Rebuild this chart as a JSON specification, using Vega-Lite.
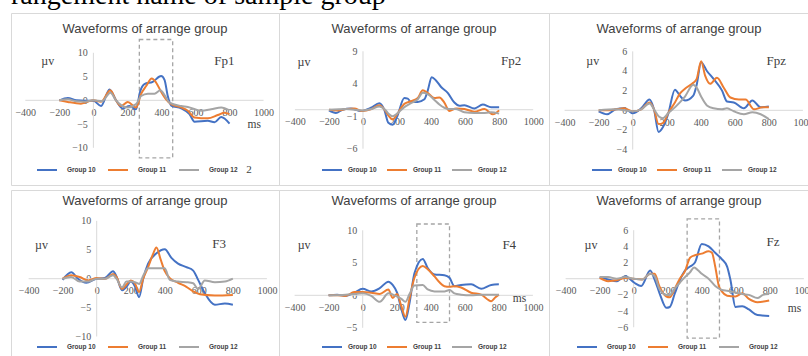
{
"$schema": "https://vega.github.io/schema/vega-lite/v6.json",
"padding": {"left": 10, "top": 0, "right": -4, "bottom": -1},
"config": {
  "view": {"stroke": "#d9d9d9", "strokeWidth": 1},
  "concat": {"spacing": 0},
  "title": {"font": "Liberation Sans", "fontSize": 13, "fontWeight": "normal", "color": "#404040", "anchor": "middle", "frame": "group"},
  "axis": {"domain": false, "ticks": false, "tickSize": 0, "grid": false, "labelFont": "Liberation Serif", "labelFontSize": 10, "labelColor": "#595959", "labelFlush": false, "labelOverlap": false, "labelBound": false},
  "axisX": {"labelPadding": 12, "labelBaseline": "middle", "labelAlign": "center"},
  "axisY": {"labelPadding": 6, "labelAlign": "right", "labelBaseline": "middle"},
  "legend": {"orient": "none", "direction": "horizontal", "symbolType": "stroke", "symbolSize": 400, "symbolStrokeWidth": 2, "labelFont": "Liberation Sans", "labelFontSize": 6.5, "labelFontWeight": "bold", "labelColor": "#404040"},
  "line": {"interpolate": "monotone", "strokeWidth": 2},
  "rule": {"color": "#d9d9d9", "strokeWidth": 1},
  "text": {"font": "Liberation Serif", "color": "#404040", "baseline": "middle", "align": "center"}
},
"datasets": {
"fp1": [
{"g":"Group 10","t":-200,"v":0},{"g":"Group 10","t":-150,"v":0.5},{"g":"Group 10","t":-100,"v":0},{"g":"Group 10","t":-50,"v":-0.1},{"g":"Group 10","t":0,"v":-0.1},{"g":"Group 10","t":45,"v":-1.2},{"g":"Group 10","t":95,"v":2.3},{"g":"Group 10","t":133,"v":0},{"g":"Group 10","t":172,"v":-1.7},{"g":"Group 10","t":212,"v":-1.2},{"g":"Group 10","t":250,"v":-1.9},{"g":"Group 10","t":276,"v":2.0},{"g":"Group 10","t":300,"v":3.4},{"g":"Group 10","t":349,"v":3.9},{"g":"Group 10","t":398,"v":5.1},{"g":"Group 10","t":418,"v":4.3},{"g":"Group 10","t":437,"v":0.9},{"g":"Group 10","t":457,"v":-1.1},{"g":"Group 10","t":516,"v":-1.7},{"g":"Group 10","t":565,"v":-2.9},{"g":"Group 10","t":594,"v":-4.5},{"g":"Group 10","t":672,"v":-4.3},{"g":"Group 10","t":712,"v":-4.6},{"g":"Group 10","t":751,"v":-3.5},{"g":"Group 10","t":800,"v":-4.9},
{"g":"Group 11","t":-200,"v":0},{"g":"Group 11","t":-150,"v":-0.35},{"g":"Group 11","t":-73,"v":-0.7},{"g":"Group 11","t":-33,"v":-0.3},{"g":"Group 11","t":0,"v":0},{"g":"Group 11","t":45,"v":-0.3},{"g":"Group 11","t":100,"v":2.1},{"g":"Group 11","t":133,"v":0},{"g":"Group 11","t":163,"v":-1.2},{"g":"Group 11","t":202,"v":-0.35},{"g":"Group 11","t":251,"v":-1.5},{"g":"Group 11","t":280,"v":1.3},{"g":"Group 11","t":310,"v":3.0},{"g":"Group 11","t":343,"v":4.6},{"g":"Group 11","t":369,"v":3.7},{"g":"Group 11","t":398,"v":1.8},{"g":"Group 11","t":427,"v":0.2},{"g":"Group 11","t":457,"v":-0.8},{"g":"Group 11","t":516,"v":-1.5},{"g":"Group 11","t":555,"v":-2.2},{"g":"Group 11","t":594,"v":-3.6},{"g":"Group 11","t":672,"v":-3.8},{"g":"Group 11","t":731,"v":-3.1},{"g":"Group 11","t":771,"v":-2.6},{"g":"Group 11","t":800,"v":-2.9},
{"g":"Group 12","t":-200,"v":0},{"g":"Group 12","t":-150,"v":0.2},{"g":"Group 12","t":-100,"v":-0.2},{"g":"Group 12","t":-50,"v":-0.3},{"g":"Group 12","t":0,"v":0},{"g":"Group 12","t":50,"v":-0.2},{"g":"Group 12","t":100,"v":1.6},{"g":"Group 12","t":133,"v":0},{"g":"Group 12","t":163,"v":-1.0},{"g":"Group 12","t":202,"v":-1.5},{"g":"Group 12","t":251,"v":-0.8},{"g":"Group 12","t":280,"v":0.9},{"g":"Group 12","t":320,"v":1.4},{"g":"Group 12","t":359,"v":1.4},{"g":"Group 12","t":394,"v":2.1},{"g":"Group 12","t":418,"v":1.1},{"g":"Group 12","t":447,"v":-0.5},{"g":"Group 12","t":516,"v":-1.2},{"g":"Group 12","t":555,"v":-1.4},{"g":"Group 12","t":633,"v":-2.2},{"g":"Group 12","t":692,"v":-1.9},{"g":"Group 12","t":751,"v":-1.5},{"g":"Group 12","t":800,"v":-2.1}
],
"fp2": [
{"g":"Group 10","t":-200,"v":-0.1},{"g":"Group 10","t":-159,"v":-0.5},{"g":"Group 10","t":-120,"v":0},{"g":"Group 10","t":-71,"v":0.2},{"g":"Group 10","t":-12,"v":-0.2},{"g":"Group 10","t":47,"v":0.3},{"g":"Group 10","t":96,"v":1.0},{"g":"Group 10","t":125,"v":0},{"g":"Group 10","t":149,"v":-2.0},{"g":"Group 10","t":175,"v":-2.3},{"g":"Group 10","t":200,"v":-1.1},{"g":"Group 10","t":243,"v":1.8},{"g":"Group 10","t":263,"v":1.7},{"g":"Group 10","t":282,"v":1.2},{"g":"Group 10","t":322,"v":1.2},{"g":"Group 10","t":361,"v":1.6},{"g":"Group 10","t":380,"v":2.9},{"g":"Group 10","t":404,"v":5.0},{"g":"Group 10","t":429,"v":4.5},{"g":"Group 10","t":459,"v":3.5},{"g":"Group 10","t":498,"v":2.6},{"g":"Group 10","t":537,"v":1.1},{"g":"Group 10","t":567,"v":0.6},{"g":"Group 10","t":596,"v":0.7},{"g":"Group 10","t":655,"v":0.2},{"g":"Group 10","t":704,"v":0.8},{"g":"Group 10","t":753,"v":0.4},{"g":"Group 10","t":800,"v":0.4},
{"g":"Group 11","t":-200,"v":0},{"g":"Group 11","t":-150,"v":-0.1},{"g":"Group 11","t":-100,"v":0.1},{"g":"Group 11","t":-50,"v":0.2},{"g":"Group 11","t":-10,"v":-0.2},{"g":"Group 11","t":50,"v":0.1},{"g":"Group 11","t":96,"v":0.7},{"g":"Group 11","t":130,"v":-0.1},{"g":"Group 11","t":150,"v":-0.9},{"g":"Group 11","t":175,"v":-1.5},{"g":"Group 11","t":200,"v":-0.7},{"g":"Group 11","t":243,"v":0.9},{"g":"Group 11","t":282,"v":1.3},{"g":"Group 11","t":322,"v":1.8},{"g":"Group 11","t":351,"v":3.0},{"g":"Group 11","t":380,"v":2.6},{"g":"Group 11","t":420,"v":1.8},{"g":"Group 11","t":449,"v":1.9},{"g":"Group 11","t":478,"v":1.1},{"g":"Group 11","t":508,"v":-0.2},{"g":"Group 11","t":547,"v":0.2},{"g":"Group 11","t":596,"v":0.1},{"g":"Group 11","t":655,"v":-0.3},{"g":"Group 11","t":714,"v":0.1},{"g":"Group 11","t":763,"v":-0.7},{"g":"Group 11","t":800,"v":-0.1},
{"g":"Group 12","t":-200,"v":0},{"g":"Group 12","t":-100,"v":0.1},{"g":"Group 12","t":0,"v":-0.1},{"g":"Group 12","t":50,"v":0.1},{"g":"Group 12","t":96,"v":0.5},{"g":"Group 12","t":130,"v":0},{"g":"Group 12","t":150,"v":-0.6},{"g":"Group 12","t":175,"v":-1.0},{"g":"Group 12","t":200,"v":-0.6},{"g":"Group 12","t":243,"v":0.4},{"g":"Group 12","t":282,"v":1.0},{"g":"Group 12","t":322,"v":1.6},{"g":"Group 12","t":351,"v":2.6},{"g":"Group 12","t":380,"v":2.4},{"g":"Group 12","t":420,"v":1.5},{"g":"Group 12","t":449,"v":0.8},{"g":"Group 12","t":478,"v":0.3},{"g":"Group 12","t":508,"v":0.1},{"g":"Group 12","t":547,"v":0.1},{"g":"Group 12","t":596,"v":-0.4},{"g":"Group 12","t":655,"v":-0.5},{"g":"Group 12","t":704,"v":-0.5},{"g":"Group 12","t":753,"v":-0.4},{"g":"Group 12","t":800,"v":-0.6}
],
"fpz": [
{"g":"Group 10","t":-200,"v":-0.1},{"g":"Group 10","t":-150,"v":-0.4},{"g":"Group 10","t":-100,"v":0.1},{"g":"Group 10","t":-50,"v":0.2},{"g":"Group 10","t":0,"v":-0.3},{"g":"Group 10","t":50,"v":0.2},{"g":"Group 10","t":99,"v":1.1},{"g":"Group 10","t":125,"v":0.1},{"g":"Group 10","t":152,"v":-2.2},{"g":"Group 10","t":178,"v":-1.7},{"g":"Group 10","t":208,"v":-0.4},{"g":"Group 10","t":248,"v":2.1},{"g":"Group 10","t":277,"v":1.5},{"g":"Group 10","t":307,"v":1.0},{"g":"Group 10","t":356,"v":1.5},{"g":"Group 10","t":376,"v":2.6},{"g":"Group 10","t":402,"v":4.9},{"g":"Group 10","t":436,"v":4.0},{"g":"Group 10","t":475,"v":3.2},{"g":"Group 10","t":525,"v":2.0},{"g":"Group 10","t":554,"v":0.9},{"g":"Group 10","t":594,"v":0.8},{"g":"Group 10","t":653,"v":0.2},{"g":"Group 10","t":703,"v":1.0},{"g":"Group 10","t":752,"v":0.3},{"g":"Group 10","t":800,"v":0.4},
{"g":"Group 11","t":-200,"v":0},{"g":"Group 11","t":-150,"v":0},{"g":"Group 11","t":-100,"v":0.1},{"g":"Group 11","t":-50,"v":0.2},{"g":"Group 11","t":0,"v":-0.1},{"g":"Group 11","t":50,"v":0.1},{"g":"Group 11","t":99,"v":0.8},{"g":"Group 11","t":125,"v":0.1},{"g":"Group 11","t":152,"v":-1.4},{"g":"Group 11","t":178,"v":-1.3},{"g":"Group 11","t":208,"v":-0.3},{"g":"Group 11","t":248,"v":0.8},{"g":"Group 11","t":277,"v":1.7},{"g":"Group 11","t":307,"v":2.2},{"g":"Group 11","t":356,"v":2.8},{"g":"Group 11","t":376,"v":3.2},{"g":"Group 11","t":402,"v":5.0},{"g":"Group 11","t":426,"v":3.5},{"g":"Group 11","t":455,"v":2.7},{"g":"Group 11","t":495,"v":3.3},{"g":"Group 11","t":535,"v":2.3},{"g":"Group 11","t":574,"v":1.3},{"g":"Group 11","t":624,"v":1.1},{"g":"Group 11","t":663,"v":1.1},{"g":"Group 11","t":713,"v":0.1},{"g":"Group 11","t":762,"v":0.3},{"g":"Group 11","t":800,"v":0.3},
{"g":"Group 12","t":-200,"v":0},{"g":"Group 12","t":-100,"v":0.1},{"g":"Group 12","t":0,"v":-0.1},{"g":"Group 12","t":50,"v":0.1},{"g":"Group 12","t":99,"v":0.7},{"g":"Group 12","t":125,"v":0.1},{"g":"Group 12","t":152,"v":-0.6},{"g":"Group 12","t":178,"v":-0.8},{"g":"Group 12","t":208,"v":-0.3},{"g":"Group 12","t":248,"v":0.3},{"g":"Group 12","t":277,"v":0.8},{"g":"Group 12","t":307,"v":1.4},{"g":"Group 12","t":356,"v":2.6},{"g":"Group 12","t":376,"v":2.3},{"g":"Group 12","t":402,"v":1.4},{"g":"Group 12","t":436,"v":0.5},{"g":"Group 12","t":475,"v":0.2},{"g":"Group 12","t":525,"v":0.1},{"g":"Group 12","t":554,"v":0.2},{"g":"Group 12","t":594,"v":-0.1},{"g":"Group 12","t":653,"v":-0.4},{"g":"Group 12","t":703,"v":-0.2},{"g":"Group 12","t":752,"v":-0.4},{"g":"Group 12","t":800,"v":-0.9}
],
"f3": [
{"g":"Group 10","t":-200,"v":-0.2},{"g":"Group 10","t":-149,"v":1.1},{"g":"Group 10","t":-110,"v":0},{"g":"Group 10","t":-61,"v":-0.7},{"g":"Group 10","t":0,"v":0},{"g":"Group 10","t":47,"v":0.1},{"g":"Group 10","t":96,"v":1.3},{"g":"Group 10","t":116,"v":0.4},{"g":"Group 10","t":149,"v":-2.0},{"g":"Group 10","t":175,"v":-1.4},{"g":"Group 10","t":200,"v":-0.5},{"g":"Group 10","t":224,"v":-1.3},{"g":"Group 10","t":249,"v":-3.2},{"g":"Group 10","t":273,"v":0},{"g":"Group 10","t":302,"v":2.6},{"g":"Group 10","t":351,"v":4.4},{"g":"Group 10","t":400,"v":5.1},{"g":"Group 10","t":439,"v":3.6},{"g":"Group 10","t":478,"v":2.6},{"g":"Group 10","t":527,"v":2.0},{"g":"Group 10","t":567,"v":1.4},{"g":"Group 10","t":596,"v":-0.2},{"g":"Group 10","t":635,"v":-2.5},{"g":"Group 10","t":694,"v":-4.5},{"g":"Group 10","t":753,"v":-4.3},{"g":"Group 10","t":800,"v":-4.5},
{"g":"Group 11","t":-200,"v":0},{"g":"Group 11","t":-150,"v":0.6},{"g":"Group 11","t":-100,"v":0.3},{"g":"Group 11","t":-50,"v":-0.3},{"g":"Group 11","t":0,"v":0.1},{"g":"Group 11","t":50,"v":0},{"g":"Group 11","t":96,"v":0.8},{"g":"Group 11","t":116,"v":0.3},{"g":"Group 11","t":149,"v":-1.8},{"g":"Group 11","t":175,"v":-1.0},{"g":"Group 11","t":200,"v":-0.3},{"g":"Group 11","t":224,"v":-0.8},{"g":"Group 11","t":249,"v":-2.3},{"g":"Group 11","t":273,"v":0},{"g":"Group 11","t":302,"v":2.0},{"g":"Group 11","t":330,"v":4.2},{"g":"Group 11","t":351,"v":5.4},{"g":"Group 11","t":376,"v":3.3},{"g":"Group 11","t":400,"v":1.3},{"g":"Group 11","t":429,"v":0.1},{"g":"Group 11","t":478,"v":-0.7},{"g":"Group 11","t":527,"v":-1.4},{"g":"Group 11","t":567,"v":-2.2},{"g":"Group 11","t":606,"v":-2.7},{"g":"Group 11","t":694,"v":-2.9},{"g":"Group 11","t":800,"v":-2.8},
{"g":"Group 12","t":-200,"v":0},{"g":"Group 12","t":-150,"v":0.3},{"g":"Group 12","t":-100,"v":-0.5},{"g":"Group 12","t":-50,"v":-0.5},{"g":"Group 12","t":0,"v":0},{"g":"Group 12","t":50,"v":0},{"g":"Group 12","t":96,"v":0.6},{"g":"Group 12","t":116,"v":0},{"g":"Group 12","t":149,"v":-1.5},{"g":"Group 12","t":175,"v":-0.5},{"g":"Group 12","t":200,"v":-0.5},{"g":"Group 12","t":224,"v":-0.6},{"g":"Group 12","t":249,"v":-0.9},{"g":"Group 12","t":273,"v":0.5},{"g":"Group 12","t":302,"v":1.8},{"g":"Group 12","t":351,"v":1.8},{"g":"Group 12","t":400,"v":1.8},{"g":"Group 12","t":429,"v":-0.2},{"g":"Group 12","t":478,"v":-0.5},{"g":"Group 12","t":527,"v":-0.6},{"g":"Group 12","t":567,"v":-0.8},{"g":"Group 12","t":596,"v":-1.8},{"g":"Group 12","t":635,"v":-0.3},{"g":"Group 12","t":694,"v":-0.6},{"g":"Group 12","t":753,"v":-0.5},{"g":"Group 12","t":800,"v":0}
],
"f4": [
{"g":"Group 10","t":-200,"v":0},{"g":"Group 10","t":-150,"v":0.1},{"g":"Group 10","t":-100,"v":-0.1},{"g":"Group 10","t":-50,"v":0.4},{"g":"Group 10","t":0,"v":1.0},{"g":"Group 10","t":50,"v":0.6},{"g":"Group 10","t":100,"v":1.1},{"g":"Group 10","t":151,"v":2.1},{"g":"Group 10","t":176,"v":1.6},{"g":"Group 10","t":202,"v":0.4},{"g":"Group 10","t":225,"v":-1.9},{"g":"Group 10","t":251,"v":-3.8},{"g":"Group 10","t":275,"v":-1.2},{"g":"Group 10","t":304,"v":3.4},{"g":"Group 10","t":353,"v":5.6},{"g":"Group 10","t":382,"v":4.2},{"g":"Group 10","t":422,"v":3.2},{"g":"Group 10","t":480,"v":3.1},{"g":"Group 10","t":510,"v":2.7},{"g":"Group 10","t":539,"v":1.4},{"g":"Group 10","t":578,"v":1.6},{"g":"Group 10","t":637,"v":1.7},{"g":"Group 10","t":696,"v":1.0},{"g":"Group 10","t":755,"v":1.6},{"g":"Group 10","t":800,"v":1.7},
{"g":"Group 11","t":-200,"v":0},{"g":"Group 11","t":-150,"v":0},{"g":"Group 11","t":-100,"v":-0.1},{"g":"Group 11","t":-50,"v":0.5},{"g":"Group 11","t":0,"v":0.5},{"g":"Group 11","t":50,"v":0.4},{"g":"Group 11","t":100,"v":0.2},{"g":"Group 11","t":151,"v":0.9},{"g":"Group 11","t":176,"v":-0.4},{"g":"Group 11","t":202,"v":0.2},{"g":"Group 11","t":225,"v":-1.5},{"g":"Group 11","t":251,"v":-3.3},{"g":"Group 11","t":275,"v":-0.5},{"g":"Group 11","t":304,"v":2.7},{"g":"Group 11","t":353,"v":4.5},{"g":"Group 11","t":382,"v":4.0},{"g":"Group 11","t":422,"v":2.9},{"g":"Group 11","t":451,"v":2.0},{"g":"Group 11","t":480,"v":1.4},{"g":"Group 11","t":510,"v":1.3},{"g":"Group 11","t":539,"v":1.4},{"g":"Group 11","t":578,"v":1.2},{"g":"Group 11","t":637,"v":0.4},{"g":"Group 11","t":696,"v":0.1},{"g":"Group 11","t":755,"v":-0.9},{"g":"Group 11","t":780,"v":-0.3},{"g":"Group 11","t":800,"v":0.1},
{"g":"Group 12","t":-200,"v":0},{"g":"Group 12","t":-100,"v":0.1},{"g":"Group 12","t":-50,"v":0.2},{"g":"Group 12","t":0,"v":0.3},{"g":"Group 12","t":50,"v":-0.1},{"g":"Group 12","t":100,"v":-1.0},{"g":"Group 12","t":151,"v":0.3},{"g":"Group 12","t":202,"v":-0.2},{"g":"Group 12","t":225,"v":-0.5},{"g":"Group 12","t":251,"v":-1.0},{"g":"Group 12","t":275,"v":0.2},{"g":"Group 12","t":304,"v":1.5},{"g":"Group 12","t":353,"v":1.6},{"g":"Group 12","t":382,"v":0.9},{"g":"Group 12","t":422,"v":0.6},{"g":"Group 12","t":480,"v":0.6},{"g":"Group 12","t":510,"v":0.8},{"g":"Group 12","t":539,"v":0.3},{"g":"Group 12","t":578,"v":0.1},{"g":"Group 12","t":637,"v":0},{"g":"Group 12","t":696,"v":0.1},{"g":"Group 12","t":755,"v":0.1},{"g":"Group 12","t":800,"v":0.1}
],
"fz": [
{"g":"Group 10","t":-200,"v":0.2},{"g":"Group 10","t":-150,"v":-0.1},{"g":"Group 10","t":-100,"v":-0.3},{"g":"Group 10","t":-50,"v":0.3},{"g":"Group 10","t":4,"v":-0.5},{"g":"Group 10","t":44,"v":-0.9},{"g":"Group 10","t":97,"v":1.0},{"g":"Group 10","t":123,"v":-0.1},{"g":"Group 10","t":152,"v":-1.8},{"g":"Group 10","t":192,"v":-3.6},{"g":"Group 10","t":212,"v":-3.5},{"g":"Group 10","t":242,"v":-1.8},{"g":"Group 10","t":271,"v":-0.2},{"g":"Group 10","t":301,"v":1.0},{"g":"Group 10","t":331,"v":1.5},{"g":"Group 10","t":360,"v":2.0},{"g":"Group 10","t":400,"v":4.3},{"g":"Group 10","t":440,"v":4.0},{"g":"Group 10","t":479,"v":3.2},{"g":"Group 10","t":519,"v":2.4},{"g":"Group 10","t":549,"v":1.5},{"g":"Group 10","t":568,"v":-0.1},{"g":"Group 10","t":598,"v":-3.5},{"g":"Group 10","t":638,"v":-3.4},{"g":"Group 10","t":677,"v":-3.8},{"g":"Group 10","t":727,"v":-4.5},{"g":"Group 10","t":796,"v":-4.6},
{"g":"Group 11","t":-200,"v":0.1},{"g":"Group 11","t":-150,"v":-0.3},{"g":"Group 11","t":-100,"v":-0.2},{"g":"Group 11","t":-50,"v":0.1},{"g":"Group 11","t":0,"v":0},{"g":"Group 11","t":50,"v":-0.1},{"g":"Group 11","t":97,"v":0.6},{"g":"Group 11","t":123,"v":0.6},{"g":"Group 11","t":152,"v":-1.0},{"g":"Group 11","t":192,"v":-2.2},{"g":"Group 11","t":212,"v":-2.3},{"g":"Group 11","t":242,"v":-1.2},{"g":"Group 11","t":271,"v":0},{"g":"Group 11","t":301,"v":0.9},{"g":"Group 11","t":331,"v":2.6},{"g":"Group 11","t":360,"v":2.9},{"g":"Group 11","t":400,"v":3.1},{"g":"Group 11","t":440,"v":3.4},{"g":"Group 11","t":460,"v":3.2},{"g":"Group 11","t":479,"v":1.5},{"g":"Group 11","t":499,"v":-0.8},{"g":"Group 11","t":519,"v":-1.6},{"g":"Group 11","t":549,"v":-2.1},{"g":"Group 11","t":598,"v":-2.2},{"g":"Group 11","t":638,"v":-1.8},{"g":"Group 11","t":677,"v":-2.5},{"g":"Group 11","t":727,"v":-2.9},{"g":"Group 11","t":796,"v":-2.7},
{"g":"Group 12","t":-200,"v":0.2},{"g":"Group 12","t":-150,"v":0.2},{"g":"Group 12","t":-100,"v":0},{"g":"Group 12","t":-50,"v":0.2},{"g":"Group 12","t":0,"v":0},{"g":"Group 12","t":50,"v":-0.1},{"g":"Group 12","t":97,"v":0.6},{"g":"Group 12","t":123,"v":0.3},{"g":"Group 12","t":152,"v":-1.3},{"g":"Group 12","t":192,"v":-2.0},{"g":"Group 12","t":212,"v":-2.0},{"g":"Group 12","t":242,"v":-1.2},{"g":"Group 12","t":271,"v":-0.5},{"g":"Group 12","t":301,"v":0.2},{"g":"Group 12","t":331,"v":0.8},{"g":"Group 12","t":355,"v":1.4},{"g":"Group 12","t":380,"v":1.0},{"g":"Group 12","t":400,"v":0.6},{"g":"Group 12","t":440,"v":0},{"g":"Group 12","t":479,"v":-0.9},{"g":"Group 12","t":519,"v":-1.4},{"g":"Group 12","t":549,"v":-1.5},{"g":"Group 12","t":598,"v":-1.7},{"g":"Group 12","t":638,"v":-1.9},{"g":"Group 12","t":677,"v":-2.0},{"g":"Group 12","t":727,"v":-2.4},{"g":"Group 12","t":760,"v":-2.0},{"g":"Group 12","t":796,"v":-1.9}
]
},
"spacing": 0,
"bounds": "full",
"resolve": {"scale": {"color": "independent"}, "legend": {"color": "independent"}},
"vconcat": [
{
  "width": 798, "height": 12,
  "view": {"stroke": null},
  "data": {"values": [{"label": "rangement name of sample group"}]},
  "mark": {"type": "text", "clip": true, "align": "left", "baseline": "alphabetic", "font": "Liberation Serif", "fontSize": 28, "color": "#000000", "dy": 4},
  "encoding": {
    "x": {"datum": 0, "type": "quantitative", "scale": {"domain": [0, 1]}, "axis": null},
    "y": {"datum": 1, "type": "quantitative", "scale": {"domain": [0, 1]}, "axis": null},
    "text": {"field": "label"}
  }
},
{
"spacing": 3,
"bounds": "full",
"resolve": {"scale": {"color": "independent"}, "legend": {"color": "independent"}},
"vconcat": [
{
"spacing": 0,
"bounds": "flush",
"resolve": {"scale": {"color": "independent"}, "legend": {"color": "independent"}},
"hconcat": [
{
  "width": 268, "height": 172,
  "title": {"text": "Waveforms of arrange  group", "offset": -23},
  "layer": [
    {"data": {"values": [{}]}, "mark": {"type": "rule"}, "encoding": {"x": {"datum": -400, "type": "quantitative"}, "x2": {"datum": 1000}, "y": {"datum": 0, "type": "quantitative"}}},
    {"data": {"values": [{}]}, "mark": {"type": "rule"}, "encoding": {"x": {"datum": 0, "type": "quantitative"}, "y": {"datum": -10, "type": "quantitative"}, "y2": {"datum": 10}}},
    {"data": {"values": [{}]}, "mark": {"type": "rect", "fillOpacity": 0, "stroke": "#a5a5a5", "strokeWidth": 1.3, "strokeDash": [4, 3]}, "encoding": {"x": {"datum": 270, "type": "quantitative"}, "x2": {"datum": 466}, "y": {"datum": 12.8, "type": "quantitative"}, "y2": {"datum": -12.1}}},
    {"data": {"name": "fp1"}, "mark": {"type": "line"}, "encoding": {
      "x": {"field": "t", "type": "quantitative", "scale": {"domain": [-484, 1090.6], "nice": false, "zero": false}, "axis": {"values": [-400, -200, 0, 200, 400, 600, 800, 1000], "format": "d", "tickCount": 30, "offset": -84.7, "title": null, "labelOverlap": false}},
      "y": {"field": "v", "type": "quantitative", "scale": {"domain": [-17.83, 18.38], "nice": false, "zero": false}, "axis": {"values": [-10, -5, 0, 5, 10], "format": "d", "tickCount": 30, "offset": -82.3, "title": null, "labelOverlap": false}},
      "color": {"field": "g", "type": "nominal", "scale": {"domain": ["Group 10", "Group 11", "Group 12"], "range": ["#4472C4", "#ED7D31", "#A5A5A5"]}, "legend": {"title": null, "legendX": 25, "legendY": 146, "columnPadding": 8, "labelOffset": 9}}
    }},
    {"data": {"values": [{}]}, "mark": {"type": "text", "fontSize": 12}, "encoding": {"x": {"datum": -268, "type": "quantitative"}, "y": {"datum": 8.3, "type": "quantitative"}, "text": {"value": "µv"}}},
    {"data": {"values": [{}]}, "mark": {"type": "text", "fontSize": 13}, "encoding": {"x": {"datum": 769, "type": "quantitative"}, "y": {"datum": 8.3, "type": "quantitative"}, "text": {"value": "Fp1"}}},
    {"data": {"values": [{}]}, "mark": {"type": "text", "fontSize": 11.5}, "encoding": {"x": {"datum": 945, "type": "quantitative"}, "y": {"datum": -5.1, "type": "quantitative"}, "text": {"value": "ms"}}},
    {"data": {"values": [{}]}, "mark": {"type": "text", "fontSize": 11}, "encoding": {"x": {"datum": 915, "type": "quantitative"}, "y": {"datum": -14.7, "type": "quantitative"}, "text": {"value": "2"}}}
  ]
},
{
  "width": 270, "height": 172,
  "title": {"text": "Waveforms of arrange  group", "offset": -23},
  "layer": [
    {"data": {"values": [{}]}, "mark": {"type": "rule"}, "encoding": {"x": {"datum": -400, "type": "quantitative"}, "x2": {"datum": 1000}, "y": {"datum": 0, "type": "quantitative"}}},
    {"data": {"values": [{}]}, "mark": {"type": "rule"}, "encoding": {"x": {"datum": 0, "type": "quantitative"}, "y": {"datum": -6, "type": "quantitative"}, "y2": {"datum": 9}}},
    {"data": {"name": "fp2"}, "mark": {"type": "line"}, "encoding": {
      "x": {"field": "t", "type": "quantitative", "scale": {"domain": [-493.5, 1093], "nice": false, "zero": false}, "axis": {"values": [-400, -200, 0, 200, 400, 600, 800, 1000], "format": "d", "tickCount": 30, "offset": -75.3, "title": null, "labelOverlap": false}},
      "y": {"field": "v", "type": "quantitative", "scale": {"domain": [-11.58, 14.88], "nice": false, "zero": false}, "axis": {"values": [-6, -1, 4, 9], "format": "d", "tickCount": 30, "offset": -84, "title": null, "labelOverlap": false}},
      "color": {"field": "g", "type": "nominal", "scale": {"domain": ["Group 10", "Group 11", "Group 12"], "range": ["#4472C4", "#ED7D31", "#A5A5A5"]}, "legend": {"title": null, "legendX": 42, "legendY": 146, "columnPadding": 6, "labelOffset": 5}}
    }},
    {"data": {"values": [{}]}, "mark": {"type": "text", "fontSize": 12}, "encoding": {"x": {"datum": -347, "type": "quantitative"}, "y": {"datum": 7.4, "type": "quantitative"}, "text": {"value": "µv"}}},
    {"data": {"values": [{}]}, "mark": {"type": "text", "fontSize": 13}, "encoding": {"x": {"datum": 870, "type": "quantitative"}, "y": {"datum": 7.5, "type": "quantitative"}, "text": {"value": "Fp2"}}}
  ]
},
{
  "width": 260, "height": 172,
  "title": {"text": "Waveforms of arrange  group", "offset": -23},
  "layer": [
    {"data": {"values": [{}]}, "mark": {"type": "rule"}, "encoding": {"x": {"datum": -400, "type": "quantitative"}, "x2": {"datum": 1000}, "y": {"datum": 0, "type": "quantitative"}}},
    {"data": {"values": [{}]}, "mark": {"type": "rule"}, "encoding": {"x": {"datum": 0, "type": "quantitative"}, "y": {"datum": -4, "type": "quantitative"}, "y2": {"datum": 6}}},
    {"data": {"name": "fpz"}, "mark": {"type": "line"}, "encoding": {
      "x": {"field": "t", "type": "quantitative", "scale": {"domain": [-491.8, 1035.8], "nice": false, "zero": false}, "axis": {"values": [-400, -200, 0, 200, 400, 600, 800, 1000], "format": "d", "tickCount": 30, "offset": -74.7, "title": null, "labelOverlap": false}},
      "y": {"field": "v", "type": "quantitative", "scale": {"domain": [-7.6, 9.9], "nice": false, "zero": false}, "axis": {"values": [-4, -2, 0, 2, 4, 6], "format": "d", "tickCount": 30, "offset": -83.7, "title": null, "labelOverlap": false}},
      "color": {"field": "g", "type": "nominal", "scale": {"domain": ["Group 10", "Group 11", "Group 12"], "range": ["#4472C4", "#ED7D31", "#A5A5A5"]}, "legend": {"title": null, "legendX": 42, "legendY": 146, "columnPadding": 6, "labelOffset": 5}}
    }},
    {"data": {"values": [{}]}, "mark": {"type": "text", "fontSize": 12}, "encoding": {"x": {"datum": -235, "type": "quantitative"}, "y": {"datum": 5.0, "type": "quantitative"}, "text": {"value": "µv"}}},
    {"data": {"values": [{}]}, "mark": {"type": "text", "fontSize": 13}, "encoding": {"x": {"datum": 843, "type": "quantitative"}, "y": {"datum": 5.0, "type": "quantitative"}, "text": {"value": "Fpz"}}}
  ]
}
]
},
{
"spacing": 0,
"bounds": "flush",
"resolve": {"scale": {"color": "independent"}, "legend": {"color": "independent"}},
"hconcat": [
{
  "width": 268, "height": 169,
  "title": {"text": "Waveforms of arrange  group", "offset": -18},
  "layer": [
    {"data": {"values": [{}]}, "mark": {"type": "rule"}, "encoding": {"x": {"datum": -400, "type": "quantitative"}, "x2": {"datum": 1000}, "y": {"datum": 0, "type": "quantitative"}}},
    {"data": {"values": [{}]}, "mark": {"type": "rule"}, "encoding": {"x": {"datum": 0, "type": "quantitative"}, "y": {"datum": -10, "type": "quantitative"}, "y2": {"datum": 10}}},
    {"data": {"name": "f3"}, "mark": {"type": "line"}, "encoding": {
      "x": {"field": "t", "type": "quantitative", "scale": {"domain": [-503.5, 1071], "nice": false, "zero": false}, "axis": {"values": [-400, -200, 0, 200, 400, 600, 800, 1000], "format": "d", "tickCount": 30, "offset": -80.3, "title": null, "labelOverlap": false}},
      "y": {"field": "v", "type": "quantitative", "scale": {"domain": [-13.89, 15.34], "nice": false, "zero": false}, "axis": {"values": [-10, -5, 0, 5, 10], "format": "d", "tickCount": 30, "offset": -85.7, "title": null, "labelOverlap": false}},
      "color": {"field": "g", "type": "nominal", "scale": {"domain": ["Group 10", "Group 11", "Group 12"], "range": ["#4472C4", "#ED7D31", "#A5A5A5"]}, "legend": {"title": null, "legendX": 25, "legendY": 146, "columnPadding": 8, "labelOffset": 9}}
    }},
    {"data": {"values": [{}]}, "mark": {"type": "text", "fontSize": 12}, "encoding": {"x": {"datum": -324, "type": "quantitative"}, "y": {"datum": 5.8, "type": "quantitative"}, "text": {"value": "µv"}}},
    {"data": {"values": [{}]}, "mark": {"type": "text", "fontSize": 13}, "encoding": {"x": {"datum": 719, "type": "quantitative"}, "y": {"datum": 6.0, "type": "quantitative"}, "text": {"value": "F3"}}}
  ]
},
{
  "width": 270, "height": 169,
  "title": {"text": "Waveforms of arrange  group", "offset": -18},
  "layer": [
    {"data": {"values": [{}]}, "mark": {"type": "rule"}, "encoding": {"x": {"datum": -400, "type": "quantitative"}, "x2": {"datum": 1000}, "y": {"datum": 0, "type": "quantitative"}}},
    {"data": {"values": [{}]}, "mark": {"type": "rule"}, "encoding": {"x": {"datum": 0, "type": "quantitative"}, "y": {"datum": -5, "type": "quantitative"}, "y2": {"datum": 10}}},
    {"data": {"values": [{}]}, "mark": {"type": "rect", "fillOpacity": 0, "stroke": "#a5a5a5", "strokeWidth": 1.3, "strokeDash": [4, 3]}, "encoding": {"x": {"datum": 318, "type": "quantitative"}, "x2": {"datum": 510}, "y": {"datum": 10.97, "type": "quantitative"}, "y2": {"datum": -4.15}}},
    {"data": {"name": "f4"}, "mark": {"type": "line"}, "encoding": {
      "x": {"field": "t", "type": "quantitative", "scale": {"domain": [-491.8, 1094.6], "nice": false, "zero": false}, "axis": {"values": [-400, -200, 0, 200, 400, 600, 800, 1000], "format": "d", "tickCount": 30, "offset": -63.7, "title": null, "labelOverlap": false}},
      "y": {"field": "v", "type": "quantitative", "scale": {"domain": [-9.8, 16.2], "nice": false, "zero": false}, "axis": {"values": [-5, 0, 5, 10], "format": "d", "tickCount": 30, "offset": -83.7, "title": null, "labelOverlap": false}},
      "color": {"field": "g", "type": "nominal", "scale": {"domain": ["Group 10", "Group 11", "Group 12"], "range": ["#4472C4", "#ED7D31", "#A5A5A5"]}, "legend": {"title": null, "legendX": 42, "legendY": 146, "columnPadding": 6, "labelOffset": 5}}
    }},
    {"data": {"values": [{}]}, "mark": {"type": "text", "fontSize": 12}, "encoding": {"x": {"datum": -344, "type": "quantitative"}, "y": {"datum": 7.8, "type": "quantitative"}, "text": {"value": "µv"}}},
    {"data": {"values": [{}]}, "mark": {"type": "text", "fontSize": 13}, "encoding": {"x": {"datum": 861, "type": "quantitative"}, "y": {"datum": 7.8, "type": "quantitative"}, "text": {"value": "F4"}}},
    {"data": {"values": [{}]}, "mark": {"type": "text", "fontSize": 11.5}, "encoding": {"x": {"datum": 921, "type": "quantitative"}, "y": {"datum": -0.6, "type": "quantitative"}, "text": {"value": "ms"}}}
  ]
},
{
  "width": 260, "height": 169,
  "title": {"text": "Waveforms of arrange  group", "offset": -18},
  "layer": [
    {"data": {"values": [{}]}, "mark": {"type": "rule"}, "encoding": {"x": {"datum": -400, "type": "quantitative"}, "x2": {"datum": 1000}, "y": {"datum": 0, "type": "quantitative"}}},
    {"data": {"values": [{}]}, "mark": {"type": "rule"}, "encoding": {"x": {"datum": 0, "type": "quantitative"}, "y": {"datum": -6, "type": "quantitative"}, "y2": {"datum": 6}}},
    {"data": {"values": [{}]}, "mark": {"type": "rect", "fillOpacity": 0, "stroke": "#a5a5a5", "strokeWidth": 1.3, "strokeDash": [4, 3]}, "encoding": {"x": {"datum": 314, "type": "quantitative"}, "x2": {"datum": 504}, "y": {"datum": 7.39, "type": "quantitative"}, "y2": {"datum": -7.34}}},
    {"data": {"name": "fz"}, "mark": {"type": "line"}, "encoding": {
      "x": {"field": "t", "type": "quantitative", "scale": {"domain": [-497.6, 1030], "nice": false, "zero": false}, "axis": {"values": [-400, -200, 0, 200, 400, 600, 800, 1000], "format": "d", "tickCount": 30, "offset": -80.3, "title": null, "labelOverlap": false}},
      "y": {"field": "v", "type": "quantitative", "scale": {"domain": [-9.93, 10.97], "nice": false, "zero": false}, "axis": {"values": [-6, -4, -2, 0, 2, 4, 6], "format": "d", "tickCount": 30, "offset": -84.7, "title": null, "labelOverlap": false}},
      "color": {"field": "g", "type": "nominal", "scale": {"domain": ["Group 10", "Group 11", "Group 12"], "range": ["#4472C4", "#ED7D31", "#A5A5A5"]}, "legend": {"title": null, "legendX": 27, "legendY": 146, "columnPadding": 8, "labelOffset": 9}}
    }},
    {"data": {"values": [{}]}, "mark": {"type": "text", "fontSize": 12}, "encoding": {"x": {"datum": -251, "type": "quantitative"}, "y": {"datum": 4.2, "type": "quantitative"}, "text": {"value": "µv"}}},
    {"data": {"values": [{}]}, "mark": {"type": "text", "fontSize": 13}, "encoding": {"x": {"datum": 818, "type": "quantitative"}, "y": {"datum": 4.5, "type": "quantitative"}, "text": {"value": "Fz"}}},
    {"data": {"values": [{}]}, "mark": {"type": "text", "fontSize": 11.5}, "encoding": {"x": {"datum": 945, "type": "quantitative"}, "y": {"datum": -3.75, "type": "quantitative"}, "text": {"value": "ms"}}}
  ]
}
]
}
]
}
]
}
